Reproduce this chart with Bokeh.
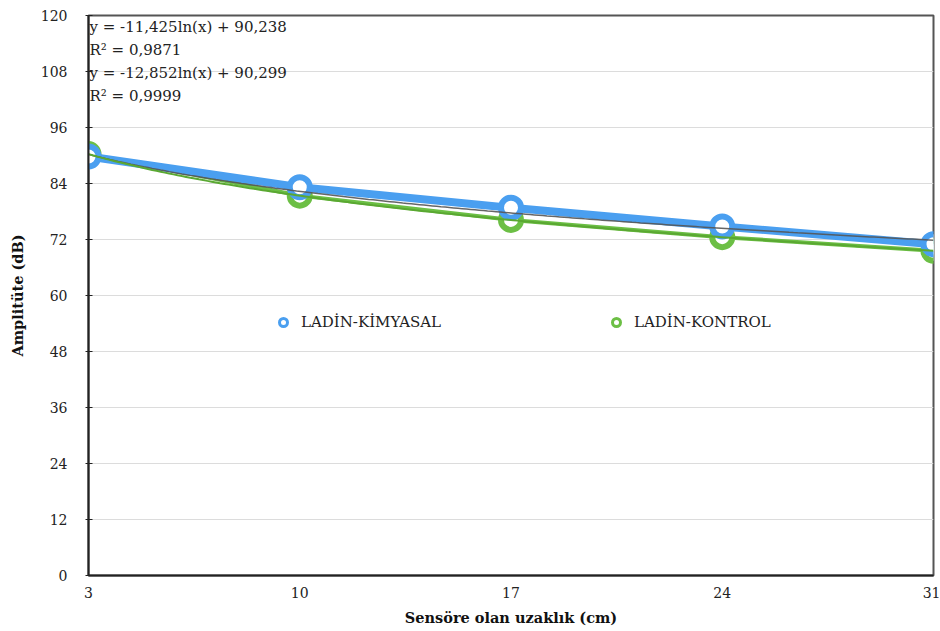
import numpy as np
from bokeh.plotting import figure
from bokeh.models import (Range1d, FixedTicker, Legend, LegendItem, Label,
                          ColumnDataSource)
from bokeh.embed import file_html
from bokeh.resources import INLINE

# Distance to sensor (cm) and measured amplitudes (dB)
distances = ["3", "10", "17", "24", "31"]
kimyasal = [89.8, 83.2, 78.8, 74.8, 71.0]
kontrol = [90.3, 81.4, 76.2, 72.5, 69.6]

# Logarithmic trendline coefficients (y = a*ln(x) + b, x = point index)
fit_kimyasal = (-11.425, 90.238)
fit_kontrol = (-12.852, 90.299)
equations = ["y = -11,425ln(x) + 90,238", "R\u00b2 = 0,9871",
             "y = -12,852ln(x) + 90,299", "R\u00b2 = 0,9999"]

y_ticks = list(range(0, 121, 12))

BLUE = "#4a9ff0"
GREEN = "#6cbf45"
SERIF = "DejaVu Serif"

idx = list(range(1, len(distances) + 1))

p = figure(width=940, height=631, output_backend="svg", toolbar_location=None,
           x_range=Range1d(1, 5), y_range=Range1d(0, 120),
           min_border_left=88, min_border_right=7, min_border_top=15,
           min_border_bottom=56)
p.outline_line_color = "#555555"
p.outline_line_width = 2
p.background_fill_color = "white"
p.border_fill_color = "white"

p.xgrid.grid_line_color = None
p.ygrid.grid_line_color = "#dcdcdc"
p.ygrid.grid_line_width = 1

p.yaxis.ticker = FixedTicker(ticks=y_ticks)
p.xaxis.ticker = FixedTicker(ticks=idx)
p.xaxis.major_label_overrides = {i: d for i, d in zip(idx, distances)}

for ax in (p.xaxis[0], p.yaxis[0]):
    ax.axis_line_color = "#222222"
    ax.axis_line_width = 2
    ax.minor_tick_line_color = None
    ax.major_label_text_font = SERIF
    ax.major_label_text_font_size = "14px"
    ax.major_label_text_color = "#222222"
    ax.axis_label_text_font = SERIF
    ax.axis_label_text_font_size = "14.5px"
    ax.axis_label_text_font_style = "bold"
    ax.axis_label_text_color = "#111111"

p.xaxis.major_tick_line_color = None
p.xaxis.major_label_standoff = 5
p.xaxis.axis_label = "Sens\u00f6re olan uzakl\u0131k (cm)"
p.xaxis.axis_label_standoff = 8

p.yaxis.major_tick_in = 4
p.yaxis.major_tick_out = 3
p.yaxis.major_tick_line_color = "#222222"
p.yaxis.major_label_standoff = 18
p.yaxis.axis_label = "Amplit\u00fcte (dB)"
p.yaxis.axis_label_standoff = 12

# Data series
src_k = ColumnDataSource(dict(x=idx, y=kontrol))
src_m = ColumnDataSource(dict(x=idx, y=kimyasal))

xs = np.linspace(1, 5, 200)

# small ring markers used as legend glyphs (covered by the large markers)
leg_k = p.scatter("x", "y", source=src_k, size=9, fill_color="white",
                  line_color=GREEN, line_width=3)
leg_m = p.scatter("x", "y", source=src_m, size=9, fill_color="white",
                  line_color=BLUE, line_width=3)

p.line("x", "y", source=src_k, line_color=GREEN, line_width=4)
p.scatter("x", "y", source=src_k, size=20, fill_color="white",
          line_color=GREEN, line_width=6)

p.line("x", "y", source=src_m, line_color=BLUE, line_width=8)
p.scatter("x", "y", source=src_m, size=20, fill_color="white",
          line_color=BLUE, line_width=6)

# Trendlines
p.line(xs, fit_kimyasal[0] * np.log(xs) + fit_kimyasal[1],
       line_color="#555555", line_width=1.5, line_alpha=0.9)
p.line(xs, fit_kontrol[0] * np.log(xs) + fit_kontrol[1],
       line_color="#5aa832", line_width=2)

# Trendline equations
for i, t in enumerate(equations):
    p.add_layout(Label(x=1, y=120, x_offset=1, y_offset=-2 - 23.3 * i,
                       text=t, text_font=SERIF, text_font_size="15px",
                       text_color="#222222", text_baseline="top"))

# Legend
for r, name, loc in ((leg_m, "LAD\u0130N-K\u0130MYASAL", (185, 243)),
                     (leg_k, "LAD\u0130N-KONTROL", (518, 243))):
    lg = Legend(items=[LegendItem(label=name, renderers=[r], index=0)],
                location=loc, border_line_color=None, background_fill_alpha=0,
                label_text_font=SERIF, label_text_font_size="15px",
                label_text_color="#222222", glyph_width=20, glyph_height=20,
                label_standoff=8, padding=0, margin=0)
    p.add_layout(lg)

open("out.html", "w").write(file_html(p, INLINE))
